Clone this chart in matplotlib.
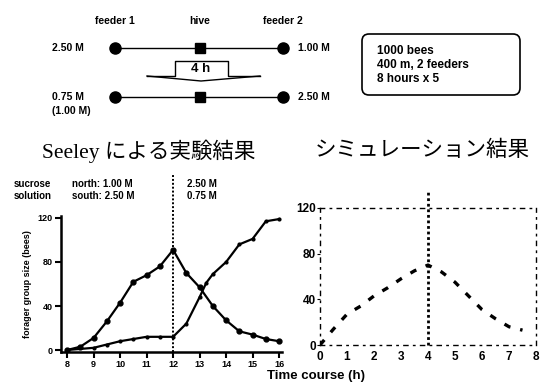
import matplotlib.pyplot as plt
from matplotlib.patches import FancyBboxPatch

# Seeley experiment (left), hours 8..16
seeley_t = [8, 8.5, 9, 9.5, 10, 10.5, 11, 11.5, 12, 12.5, 13, 13.5, 14, 14.5, 15, 15.5, 16]
north = [0, 3, 11, 26, 43, 62, 68, 76, 91, 70, 57, 40, 27, 17, 14, 10, 8]
south_t = [8, 9, 9.5, 10, 10.5, 11, 11.5, 12, 12.5, 13, 13.25, 13.5, 14, 14.5, 15, 15.5, 16]
south = [0, 2, 5, 8, 10, 12, 12, 12, 24, 48, 61, 69, 80, 96, 101, 117, 119]
seeley_xticks = [8, 9, 10, 11, 12, 13, 14, 15, 16]
seeley_yticks = [0, 40, 80, 120]

# simulation (right), hours 0..8
sim_t = [0, 0.5, 1, 1.5, 2, 2.5, 3, 3.5, 4, 4.5, 5, 5.5, 6, 6.5, 7, 7.5]
sim = [0, 14, 27, 34, 43, 50, 58, 65, 70, 64, 55, 43, 31, 23, 16, 13]
sim_xticks = [0, 1, 2, 3, 4, 5, 6, 7, 8]
sim_yticks = [0, 40, 80, 120]

W, H = 541, 386
fig = plt.figure(figsize=(W / 100, H / 100), dpi=100)
sans = 'Liberation Sans'
jp = ['Liberation Serif', 'Noto Sans CJK JP']

# ---- top diagram, drawn in pixel coordinates
d = fig.add_axes([0, 0, 1, 1])
d.set_xlim(0, W)
d.set_ylim(H, 0)
d.axis('off')
xf1, xh, xf2 = 115, 200, 283
for lbl, x in [('feeder 1', xf1), ('hive', xh), ('feeder 2', xf2)]:
    d.text(x, 21, lbl, ha='center', va='center', fontsize=7.5, fontweight='bold', family=sans)
for y, left, right in [(48, '2.50 M', '1.00 M'), (97, '0.75 M', '2.50 M')]:
    d.plot([xf1, xf2], [y, y], color='black', lw=1)
    d.plot([xf1, xf2], [y, y], 'o', color='black', ms=8)
    d.plot([xh], [y], 's', color='black', ms=7)
    d.text(52, y, left, ha='left', va='center', fontsize=7.5, fontweight='bold', family=sans)
    d.text(298, y, right, ha='left', va='center', fontsize=7.5, fontweight='bold', family=sans)
d.text(52, 111, '(1.00 M)', ha='left', va='center', fontsize=7.5, fontweight='bold', family=sans)
# "4 h" arrow
d.plot([147, 175, 175, 228, 228, 260], [76, 76, 61, 61, 76, 76], color='black', lw=1)
d.plot([147, 201, 260], [76, 81, 76], color='black', lw=1)
d.text(201, 69.5, '4 h', ha='center', va='center', fontsize=9.5, fontweight='bold', family=sans)
d.add_patch(FancyBboxPatch((362, 34), 158, 61, boxstyle='round,pad=0,rounding_size=7',
                           fill=False, ec='black', lw=1.2))
for i, s in enumerate(['1000 bees', '400 m, 2 feeders', '8 hours x 5']):
    d.text(377, 51 + i * 14, s, ha='left', va='center', fontsize=8.5, fontweight='bold', family=sans)

# titles
fig.text(149 / W, 1 - 151 / H, 'Seeley による実験結果', ha='center', va='center',
         fontsize=15.5, family=jp)
fig.text(422 / W, 1 - 151 / H, 'シミュレーション結果', ha='center', va='center',
         fontsize=15.5, family=jp)

# ---- left: Seeley
ax = fig.add_axes([61 / W, 1 - 352 / H, 221 / W, 136 / H])
ax.plot(seeley_t, north, '-o', color='black', lw=1.6, ms=3.5)
ax.plot(south_t, south, '-o', color='black', lw=1.6, ms=2)
ax.axvline(12, ymin=0, ymax=1.3, color='black', ls=(0, (1, 1)), lw=1.4, clip_on=False)
ax.set_xlim(7.77, 16.11)
ax.set_ylim(-1.8, 121.8)
ax.set_xticks(seeley_xticks)
ax.set_yticks(seeley_yticks)
for s in ['top', 'right']:
    ax.spines[s].set_visible(False)
for s in ['left', 'bottom']:
    ax.spines[s].set_linewidth(1.8)
ax.tick_params(width=1.5, length=4, labelsize=6.5, pad=2)
for t in ax.get_xticklabels() + ax.get_yticklabels():
    t.set_fontweight('bold')
    t.set_family(sans)
ax.set_ylabel('forager group size (bees)', fontsize=6.5, fontweight='bold', family=sans, labelpad=4)
ax.text(-0.215, 1.19, 'sucrose\nsolution', transform=ax.transAxes, fontsize=7, fontweight='bold',
        family=sans, va='center', linespacing=1.3)
ax.text(0.05, 1.19, 'north: 1.00 M\nsouth: 2.50 M', transform=ax.transAxes, fontsize=7,
        fontweight='bold', family=sans, va='center', linespacing=1.3)
ax.text(0.57, 1.19, '2.50 M\n0.75 M', transform=ax.transAxes, fontsize=7,
        fontweight='bold', family=sans, va='center', linespacing=1.3)

# ---- right: simulation
bx = fig.add_axes([320 / W, 1 - 345 / H, 216 / W, 137 / H])
bx.plot(sim_t, sim, color='black', lw=2.4, ls=(0, (2, 3)))
bx.axvline(4, ymin=0, ymax=1.13, color='black', ls=(0, (1, 1)), lw=2, clip_on=False)
bx.set_xlim(0, 8)
bx.set_ylim(0, 120)
bx.set_xticks(sim_xticks)
bx.set_yticks(sim_yticks)
for s in bx.spines.values():
    s.set_linestyle((0, (3, 4, 1, 4)))
    s.set_linewidth(1)
bx.tick_params(axis='x', length=0, labelsize=8.5, pad=4)
bx.tick_params(axis='y', length=2, labelsize=8.5, pad=1)
for t in bx.get_xticklabels() + bx.get_yticklabels():
    t.set_fontweight('bold')
    t.set_family(sans)

fig.text(316 / W, 1 - 376 / H, 'Time course (h)', ha='center', va='center',
         fontsize=9.5, fontweight='bold', family=sans)

fig.savefig('out.png', dpi=100)
